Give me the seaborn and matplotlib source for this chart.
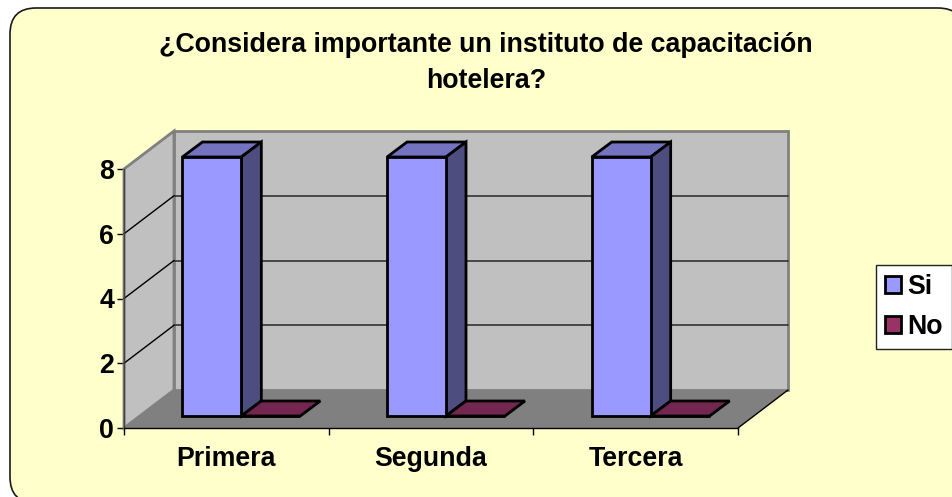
import numpy as np
import pandas as pd
import matplotlib; matplotlib.use("Agg")
import matplotlib.pyplot as plt
import seaborn as sns
from matplotlib.patches import FancyBboxPatch, Polygon
from matplotlib.transforms import Affine2D, IdentityTransform

# data
categories = ["Primera", "Segunda", "Tercera"]
si_values  = [8, 8, 8]
no_values  = [0, 0, 0]
y_ticks    = [0, 2, 4, 6, 8]
title      = "¿Considera importante un instituto de capacitación\nhotelera?"

# colours: front, side, top
SI_COLS = ("#9999FF", "#4D4D80", "#7373BF")
NO_COLS = ("#993366", "#4D1A33", "#732650")

W, H = 953, 497
WALL_DX, WALL_DY = 50, 38    # depth of the whole 3d box, px
BAR_OFF = (15, 12)           # bars stand a bit behind the front plane
BAR_DX, BAR_DY = 20, 15      # depth of one bar
FS = 19.3

sns.set_theme(style="white")
plt.rcParams["font.family"] = ["Liberation Sans", "DejaVu Sans"]
plt.rcParams["font.weight"] = "bold"
plt.rcParams["text.color"] = "black"
plt.rcParams["xtick.color"] = "black"
plt.rcParams["ytick.color"] = "black"

fig = plt.figure(figsize=(W / 100, H / 100), dpi=100, facecolor="white")
# panel runs past the right and bottom edges of the image
fig.add_artist(FancyBboxPatch((10, -6), 954, 495,
                              boxstyle="round,pad=0,rounding_size=26",
                              transform=IdentityTransform(), fc="#FFFFCC",
                              ec="#1a1a1a", lw=1.2, zorder=-1))

ax = fig.add_axes([124 / W, 69 / H, 614 / W, 259 / H])
ax.patch.set_alpha(0)

df = pd.DataFrame({
    "cat": categories * 2,
    "serie": ["Si"] * 3 + ["No"] * 3,
    "val": si_values + no_values,
})
sns.barplot(df, x="cat", y="val", hue="serie", palette=[SI_COLS[0], NO_COLS[0]],
            width=0.576, gap=0, saturation=1, edgecolor="black", linewidth=2,
            ax=ax, zorder=5)
ax.set_xlim(-0.5, 2.5)
ax.set_ylim(0, 8)
ax.set_xlabel(""); ax.set_ylabel("")

back  = ax.transData + Affine2D().translate(WALL_DX, WALL_DY)
front = ax.transData

def to_px(tr, x, y):
    return tuple(tr.transform((x, y)))

# walls and floor
x0, x1 = ax.get_xlim()
y0, y1 = ax.get_ylim()
wall_pts = [
    [to_px(front, x0, y0), to_px(back, x0, y0), to_px(back, x0, y1), to_px(front, x0, y1)],
    [to_px(back, x0, y0), to_px(back, x1, y0), to_px(back, x1, y1), to_px(back, x0, y1)],
]
for pts in wall_pts:
    ax.add_patch(Polygon(pts, closed=True, transform=IdentityTransform(), fc="#C0C0C0",
                         ec="#808080", lw=2, zorder=1, clip_on=False))
ax.add_patch(Polygon([to_px(front, x0, y0), to_px(front, x1, y0), to_px(back, x1, y0), to_px(back, x0, y0)],
                     closed=True, transform=IdentityTransform(), fc="#808080", ec="none",
                     zorder=1.5, clip_on=False))
# floor right edge
ax.plot([to_px(front, x1, y0)[0], to_px(back, x1, y0)[0]],
        [to_px(front, x1, y0)[1], to_px(back, x1, y0)[1]],
        transform=IdentityTransform(), color="black", lw=1, zorder=2, clip_on=False)

# gridlines, back wall + left wall
for t in y_ticks[1:-1]:
    ax.plot([x0, x1], [t, t], transform=back, color="#333333", lw=1.2, zorder=2, clip_on=False)
    a, b = to_px(front, x0, t), to_px(back, x0, t)
    ax.plot([a[0], b[0]], [a[1], b[1]], transform=IdentityTransform(), color="black", lw=1,
            zorder=2, clip_on=False)

# 3d faces for the bars, taken from the seaborn bars
shift = Affine2D().translate(*BAR_OFF)
for cont, cols in zip(ax.containers, (SI_COLS, NO_COLS)):
    for bar in cont:
        bx0, bx1 = bar.get_x(), bar.get_x() + bar.get_width()
        bh = bar.get_height()
        bar_tr = front + shift
        bar.set_transform(bar_tr)
        bar.set_clip_on(False)
        bar.set_joinstyle("miter")
        a = to_px(bar_tr, bx0, bh); b = to_px(bar_tr, bx1, bh); c = to_px(bar_tr, bx1, 0)
        top = [a, b, (b[0] + BAR_DX, b[1] + BAR_DY), (a[0] + BAR_DX, a[1] + BAR_DY)]
        ax.add_patch(Polygon(top, closed=True, transform=IdentityTransform(), fc=cols[2],
                             ec="black", lw=2, zorder=4, clip_on=False, joinstyle="miter"))
        if bh > 0:
            side = [c, b, (b[0] + BAR_DX, b[1] + BAR_DY), (c[0] + BAR_DX, c[1] + BAR_DY)]
            ax.add_patch(Polygon(side, closed=True, transform=IdentityTransform(), fc=cols[1],
                                 ec="black", lw=2, zorder=4, clip_on=False, joinstyle="miter"))

# axes
sns.despine(ax=ax, top=True, right=True)
ax.spines["left"].set_color("#404040"); ax.spines["bottom"].set_color("black")
ax.spines["left"].set_linewidth(1); ax.spines["bottom"].set_linewidth(1)
ax.spines["left"].set_zorder(3); ax.spines["bottom"].set_zorder(3)
ax.set_yticks(y_ticks)
ax.tick_params(axis="y", length=5, width=1, color="black", labelsize=FS, pad=2, left=True)
ax.set_xticks(range(3), categories)
ax.set_xticks([-0.5, 0.5, 1.5, 2.5], minor=True)
ax.tick_params(axis="x", which="major", length=0, labelsize=FS, pad=12.8)
ax.tick_params(axis="x", which="minor", length=5, width=1, color="black", bottom=True)

# legend
ax.legend_.remove()
handles = [plt.Rectangle((0, 0), 1, 1, fc=c[0], ec="black", lw=2) for c in (SI_COLS, NO_COLS)]
leg = fig.legend(handles, ["Si", "No"], loc="upper left", bbox_to_anchor=(876 / W, 1 - 265 / H),
                 frameon=True, fancybox=False, edgecolor="#222222", facecolor="white",
                 framealpha=1, fontsize=FS, handlelength=0.6, handleheight=0.6, handletextpad=0.2,
                 labelspacing=0.5, borderpad=0.35, borderaxespad=0)
leg.get_frame().set_linewidth(1)

fig.text(486 / W, 1 - 63.5 / H, title, ha="center", va="center", fontsize=FS,
         fontweight="bold", linespacing=1.5, color="black")

fig.savefig("out.png", dpi=100)
